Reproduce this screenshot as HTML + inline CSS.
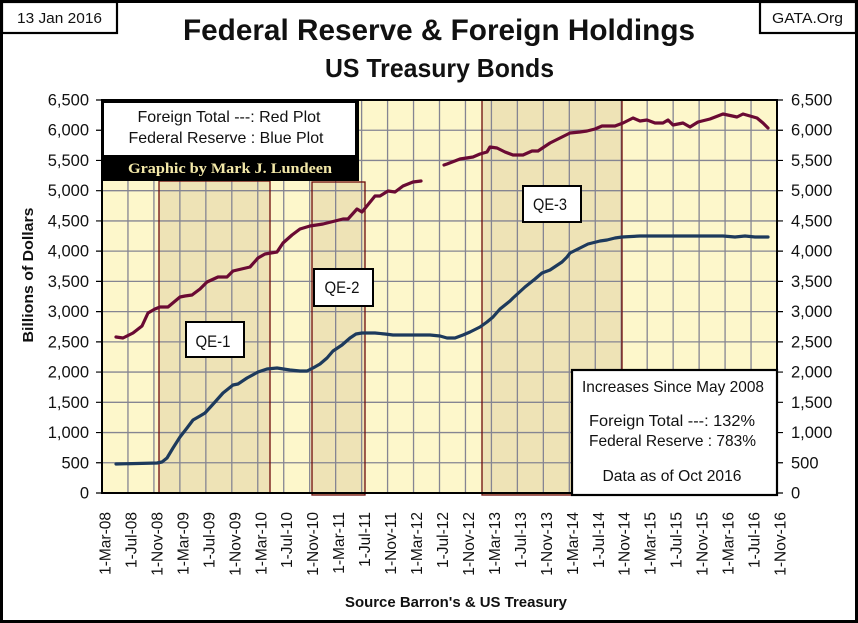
<!DOCTYPE html>
<html><head><meta charset="utf-8"><style>
html,body{margin:0;padding:0;background:#fff;}
svg{display:block;}
text{font-family:"Liberation Sans",Arial,sans-serif;}
</style></head><body>
<svg width="858" height="623" viewBox="0 0 858 623" xmlns="http://www.w3.org/2000/svg">
<rect x="0" y="0" width="858" height="623" fill="#fff"/>
<!-- plot bg -->
<rect x="102" y="100" width="675" height="393" fill="#fdf7cb"/>
<!-- QE fills -->
<rect x="159" y="181" width="111" height="312" fill="#eee3b6"/>
<rect x="312" y="182" width="53" height="313" fill="#eee3b6"/>
<rect x="482" y="100" width="140" height="395" fill="#eee3b6"/>
<!-- grid -->
<path fill="none" stroke="#858592" stroke-width="1.3" d="M102 462.77H777M102 432.54H777M102 402.31H777M102 372.08H777M102 341.85H777M102 311.62H777M102 281.38H777M102 251.15H777M102 220.92H777M102 190.69H777M102 160.46H777M102 130.23H777
M127.96 100V493M153.92 100V493M179.88 100V493M205.85 100V493M231.81 100V493M257.77 100V493M283.73 100V493M309.69 100V493M335.65 100V493M361.62 100V493M387.58 100V493M413.54 100V493M439.5 100V493M465.46 100V493M491.42 100V493M517.38 100V493M543.35 100V493M569.31 100V493M595.27 100V493M621.23 100V493M647.19 100V493M673.15 100V493M699.12 100V493M725.08 100V493M751.04 100V493"/>
<!-- QE borders -->
<rect x="159" y="181" width="111" height="312" fill="none" stroke="#6e0b0b" stroke-width="1.3"/>
<rect x="312" y="182" width="53" height="313" fill="none" stroke="#6e0b0b" stroke-width="1.3"/>
<rect x="482" y="100" width="140" height="395" fill="none" stroke="#6e0b0b" stroke-width="1.3"/>
<!-- ticks -->
<path fill="none" stroke="#000" stroke-width="1.2" d="M96 493H102M96 462.77H102M96 432.54H102M96 402.31H102M96 372.08H102M96 341.85H102M96 311.62H102M96 281.38H102M96 251.15H102M96 220.92H102M96 190.69H102M96 160.46H102M96 130.23H102M96 100H102
M777 493H783M777 462.77H783M777 432.54H783M777 402.31H783M777 372.08H783M777 341.85H783M777 311.62H783M777 281.38H783M777 251.15H783M777 220.92H783M777 190.69H783M777 160.46H783M777 130.23H783M777 100H783"/>
<!-- series -->
<polyline fill="none" stroke="#6a0a33" stroke-width="3.2" stroke-linejoin="round" stroke-linecap="round" points="116,337 123,338 133,333 142,326 148,313 155,309 160,307 168,307 180,297 185,296 192,295 200,289 207,282 218,277 227,277 233,271 250,267 258,258 265,254 277,252 283,243 292,235 300,229 310,226 323,224 335,221 343,219 348,219 357,209 362,212 375,196 380,196 388,191 395,192 403,186 413,182 421,181"/>
<polyline fill="none" stroke="#6a0a33" stroke-width="3.2" stroke-linejoin="round" stroke-linecap="round" points="444,165 447,164 460,159 473,157 480,154 487,152 490,147 497,148 505,152 513,155 523,155 532,151 538,151 550,143 560,138 570,133 580,132 587,131 595,129 602,126 615,126 623,123 633,118 640,121 647,120 655,123 663,123 668,120 673,125 683,123 690,127 698,122 710,119 723,114 737,117 743,114 757,118 763,123 768,128"/>
<polyline fill="none" stroke="#1d3a5c" stroke-width="3.2" stroke-linejoin="round" stroke-linecap="round" points="116,464 157,463 162,462 167,458 173,448 180,437 187,428 193,420 200,416 205,413 215,402 223,393 233,385 238,384 247,378 258,372 267,369 277,368 290,370 300,371 307,371 313,368 320,364 327,358 333,351 342,345 350,338 356,334 362,333 375,333 385,334 393,335 410,335 430,335 440,336 447,338 455,338 463,335 470,332 480,327 487,322 493,317 500,309 510,301 513,298 525,287 535,279 542,273 550,270 562,262 567,257 570,253 580,248 588,244 600,241 607,240 615,238 622,237 640,236 700,236 723,236 735,237 745,236 755,237 768,237"/>
<!-- plot border -->
<rect x="102" y="100" width="675" height="393" fill="none" stroke="#000" stroke-width="2"/>
<!-- legend box -->
<rect x="102" y="100" width="257" height="81" fill="#000"/>
<rect x="104" y="103" width="251" height="52" fill="#fff"/>
<text x="229" y="122" font-size="16" text-anchor="middle" textLength="183" lengthAdjust="spacingAndGlyphs" fill="#111">Foreign Total ---: Red Plot</text>
<text x="226" y="143" font-size="16" text-anchor="middle" textLength="195" lengthAdjust="spacingAndGlyphs" fill="#111">Federal Reserve : Blue Plot</text>
<text x="230" y="173" font-size="15" font-weight="bold" text-anchor="middle" textLength="204" lengthAdjust="spacingAndGlyphs" fill="#f3e8a8" style="font-family:'Liberation Serif',serif">Graphic by Mark J. Lundeen</text>
<!-- QE labels -->
<rect x="186" y="322" width="58" height="35" fill="#fff" stroke="#000" stroke-width="2"/>
<text x="213" y="347" font-size="17" text-anchor="middle" textLength="35" lengthAdjust="spacingAndGlyphs" fill="#111">QE-1</text>
<rect x="314" y="269" width="59" height="37" fill="#fff" stroke="#000" stroke-width="2"/>
<text x="342" y="293" font-size="17" text-anchor="middle" textLength="35" lengthAdjust="spacingAndGlyphs" fill="#111">QE-2</text>
<rect x="523" y="186" width="58" height="36" fill="#fff" stroke="#000" stroke-width="2"/>
<text x="550" y="210" font-size="17" text-anchor="middle" textLength="34" lengthAdjust="spacingAndGlyphs" fill="#111">QE-3</text>
<!-- increases box -->
<rect x="572" y="370" width="205" height="125" fill="#fff" stroke="#000" stroke-width="2.2"/>
<text x="673" y="392" font-size="16" text-anchor="middle" textLength="182" lengthAdjust="spacingAndGlyphs" fill="#111">Increases Since May 2008</text>
<text x="589" y="426" font-size="16" textLength="166" lengthAdjust="spacingAndGlyphs" fill="#111">Foreign Total ---:  132%</text>
<text x="589" y="446" font-size="16" textLength="167" lengthAdjust="spacingAndGlyphs" fill="#111">Federal Reserve :  783%</text>
<text x="672" y="481" font-size="16" text-anchor="middle" textLength="139" lengthAdjust="spacingAndGlyphs" fill="#111">Data as of Oct 2016</text>
<!-- left y labels -->
<g font-size="16.5" text-anchor="end" fill="#111">
<text x="89" y="498.5">0</text>
<text x="89" y="468.3">500</text>
<text x="89" y="438">1,000</text>
<text x="89" y="407.8">1,500</text>
<text x="89" y="377.6">2,000</text>
<text x="89" y="347.3">2,500</text>
<text x="89" y="317.1">3,000</text>
<text x="89" y="286.9">3,500</text>
<text x="89" y="256.6">4,000</text>
<text x="89" y="226.4">4,500</text>
<text x="89" y="196.2">5,000</text>
<text x="89" y="166">5,500</text>
<text x="89" y="135.7">6,000</text>
<text x="89" y="105.5">6,500</text>
</g>
<g font-size="16.5" fill="#111">
<text x="791" y="498.5">0</text>
<text x="791" y="468.3">500</text>
<text x="791" y="438">1,000</text>
<text x="791" y="407.8">1,500</text>
<text x="791" y="377.6">2,000</text>
<text x="791" y="347.3">2,500</text>
<text x="791" y="317.1">3,000</text>
<text x="791" y="286.9">3,500</text>
<text x="791" y="256.6">4,000</text>
<text x="791" y="226.4">4,500</text>
<text x="791" y="196.2">5,000</text>
<text x="791" y="166">5,500</text>
<text x="791" y="135.7">6,000</text>
<text x="791" y="105.5">6,500</text>
</g>
<!-- x labels -->
<g font-size="15.5" text-anchor="end" fill="#111">
<text transform="translate(110.5,512) rotate(-90)">1-Mar-08</text>
<text transform="translate(136.5,512) rotate(-90)">1-Jul-08</text>
<text transform="translate(162.4,512) rotate(-90)">1-Nov-08</text>
<text transform="translate(188.4,512) rotate(-90)">1-Mar-09</text>
<text transform="translate(214.3,512) rotate(-90)">1-Jul-09</text>
<text transform="translate(240.3,512) rotate(-90)">1-Nov-09</text>
<text transform="translate(266.3,512) rotate(-90)">1-Mar-10</text>
<text transform="translate(292.2,512) rotate(-90)">1-Jul-10</text>
<text transform="translate(318.2,512) rotate(-90)">1-Nov-10</text>
<text transform="translate(344.1,512) rotate(-90)">1-Mar-11</text>
<text transform="translate(370.1,512) rotate(-90)">1-Jul-11</text>
<text transform="translate(396.1,512) rotate(-90)">1-Nov-11</text>
<text transform="translate(422,512) rotate(-90)">1-Mar-12</text>
<text transform="translate(448,512) rotate(-90)">1-Jul-12</text>
<text transform="translate(474,512) rotate(-90)">1-Nov-12</text>
<text transform="translate(499.9,512) rotate(-90)">1-Mar-13</text>
<text transform="translate(525.9,512) rotate(-90)">1-Jul-13</text>
<text transform="translate(551.8,512) rotate(-90)">1-Nov-13</text>
<text transform="translate(577.8,512) rotate(-90)">1-Mar-14</text>
<text transform="translate(603.8,512) rotate(-90)">1-Jul-14</text>
<text transform="translate(629.7,512) rotate(-90)">1-Nov-14</text>
<text transform="translate(655.7,512) rotate(-90)">1-Mar-15</text>
<text transform="translate(681.7,512) rotate(-90)">1-Jul-15</text>
<text transform="translate(707.6,512) rotate(-90)">1-Nov-15</text>
<text transform="translate(733.6,512) rotate(-90)">1-Mar-16</text>
<text transform="translate(759.5,512) rotate(-90)">1-Jul-16</text>
<text transform="translate(785.5,512) rotate(-90)">1-Nov-16</text>
</g>
<!-- axis titles -->
<text transform="translate(33,275) rotate(-90)" font-size="15" font-weight="bold" text-anchor="middle" textLength="135" lengthAdjust="spacingAndGlyphs" fill="#111">Billions  of  Dollars</text>
<text x="456" y="607" font-size="15" font-weight="bold" text-anchor="middle" textLength="222" lengthAdjust="spacingAndGlyphs" fill="#111">Source Barron's &amp; US Treasury</text>
<!-- titles -->
<text x="439" y="40" font-size="30" font-weight="bold" text-anchor="middle" textLength="512" lengthAdjust="spacingAndGlyphs" fill="#111">Federal Reserve &amp; Foreign Holdings</text>
<text x="439.5" y="77" font-size="26" font-weight="bold" text-anchor="middle" textLength="229" lengthAdjust="spacingAndGlyphs" fill="#111">US Treasury Bonds</text>
<!-- corner boxes -->
<rect x="2" y="2" width="115" height="31" fill="#fff" stroke="#000" stroke-width="2.2"/>
<text x="59.5" y="23" font-size="15" text-anchor="middle" textLength="85" lengthAdjust="spacingAndGlyphs" fill="#111">13 Jan 2016</text>
<rect x="760" y="2" width="96" height="31" fill="#fff" stroke="#000" stroke-width="2.2"/>
<text x="807.5" y="23" font-size="15" text-anchor="middle" textLength="71" lengthAdjust="spacingAndGlyphs" fill="#111">GATA.Org</text>
<!-- outer frame -->
<rect x="1.5" y="1.5" width="855" height="620" fill="none" stroke="#000" stroke-width="3"/>
</svg>
</body></html>
